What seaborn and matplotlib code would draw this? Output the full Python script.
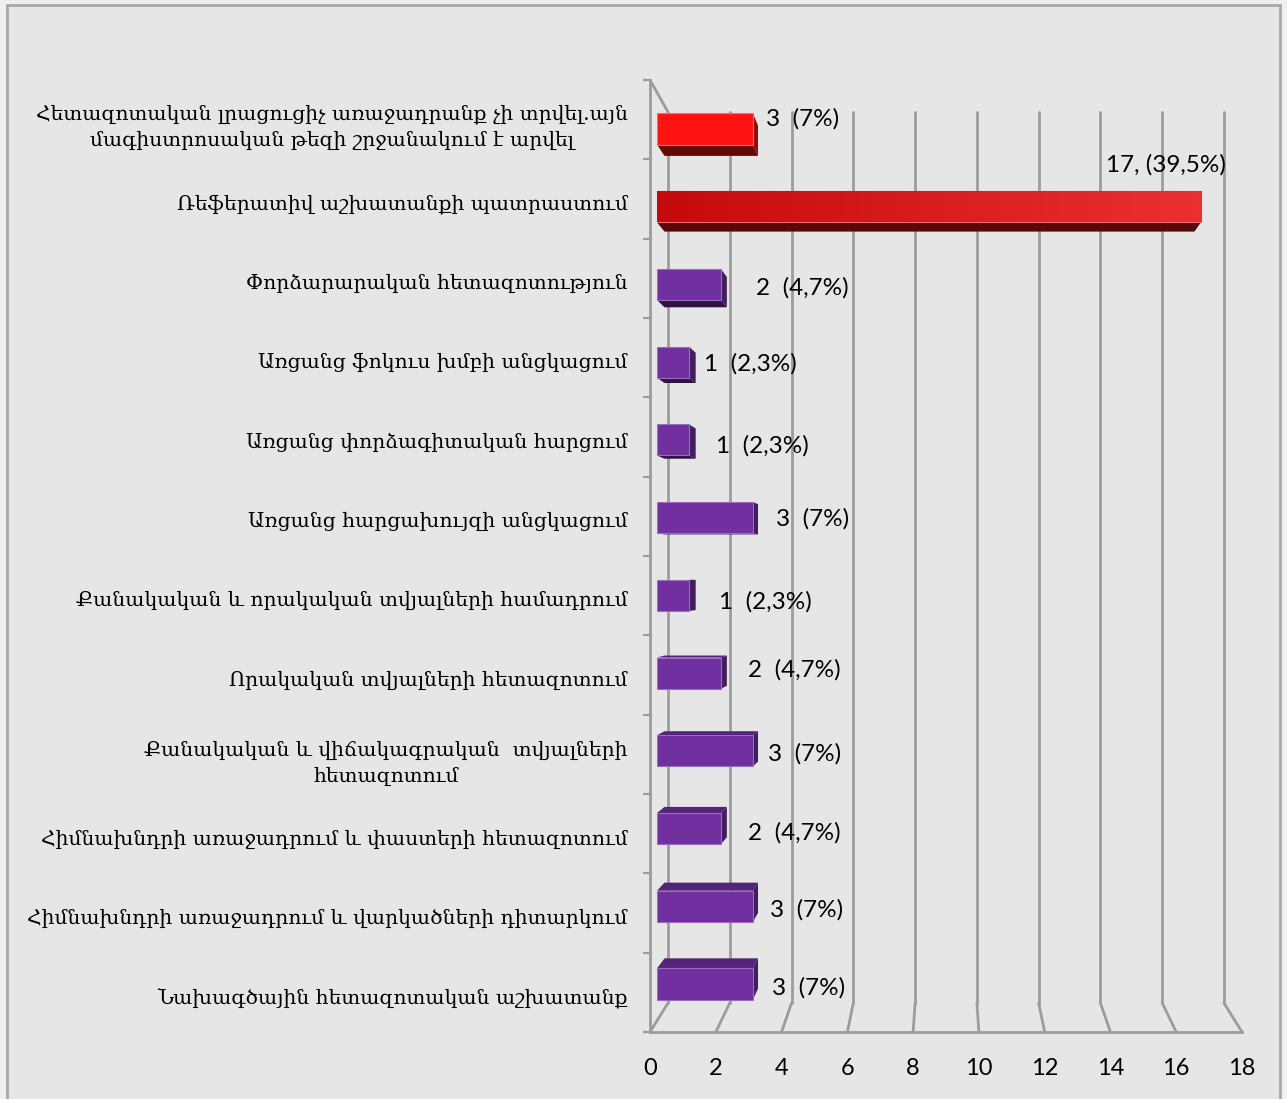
import numpy as np
import pandas as pd
import matplotlib
matplotlib.use("Agg")
import matplotlib.pyplot as plt
import seaborn as sns
from matplotlib.patches import Polygon, Rectangle, ConnectionPatch
from matplotlib.colors import LinearSegmentedColormap, to_rgb

# ---------------- data ----------------
categories = [
    "Հետազոտական լրացուցիչ առաջադրանք չի տրվել.այն\nմագիստրոսական թեզի շրջանակում է արվել",
    "Ռեֆերատիվ աշխատանքի պատրաստում",
    "Փորձարարական հետազոտություն",
    "Առցանց ֆոկուս խմբի անցկացում",
    "Առցանց փորձագիտական հարցում",
    "Առցանց հարցախույզի անցկացում",
    "Քանակական և որակական տվյալների համադրում",
    "Որակական տվյալների հետազոտում",
    "Քանակական և վիճակագրական  տվյալների\nհետազոտում",
    "Հիմնախնդրի առաջադրում և փաստերի հետազոտում",
    "Հիմնախնդրի առաջադրում և վարկածների դիտարկում",
    "Նախագծային հետազոտական աշխատանք",
]
values = [3, 17, 2, 1, 1, 3, 1, 2, 3, 2, 3, 3]
value_labels = ["3  (7%)", "17, (39,5%)", "2  (4,7%)", "1  (2,3%)", "1  (2,3%)",
                "3  (7%)", "1  (2,3%)", "2  (4,7%)", "3  (7%)", "2  (4,7%)",
                "3  (7%)", "3  (7%)"]
x_ticks = [0, 2, 4, 6, 8, 10, 12, 14, 16, 18]

# ---------------- layout / style ----------------
bar_colors = ["#ff1212", "#d81818"] + ["#7030a0"] * 10
label_dx = [0.42, -2.96, 1.10, 0.47, 0.85, 0.73, 0.94, 0.85, 0.48, 0.85, 0.54, 0.60]
label_dy = [-0.13, -0.54, 0.04, 0.02, 0.07, 0.02, 0.08, -0.04, 0.04, 0.05, 0.05, 0.05]
GRID = "#9c9c9c"
W, H = 1287, 1099

sns.set_theme(style="white")
plt.rcParams['font.family'] = ['Lato', 'DejaVu Sans']

fig = plt.figure(figsize=(W / 100, H / 100), dpi=100, facecolor="#efefef")
fig.add_artist(Rectangle((7 / W, -0.01), (1280 - 7) / W, 1.01 - 5 / H,
                         transform=fig.transFigure, facecolor="#e6e6e6",
                         edgecolor="#a8a8a8", lw=2, zorder=-10))


def fpos(l, t, r, b):
    return [l / W, 1 - b / H, (r - l) / W, (b - t) / H]


ylim = (11.618, -0.631)

ax_back = fig.add_axes(fpos(668, 112, 1224, 1003), zorder=0)
ax = fig.add_axes(fpos(650, 80, 1242, 1032), zorder=1)
ax_bar = fig.add_axes(fpos(657, 80, 1233, 1032), zorder=2)

for a in (ax_back, ax, ax_bar):
    a.set_facecolor("none")

# back wall gridlines
ax_back.set_xlim(0, 18)
ax_back.set_ylim(0, 1)
ax_back.axis("off")
for v in x_ticks:
    ax_back.axvline(v, color=GRID, lw=2, clip_on=False)
    fig.add_artist(ConnectionPatch(xyA=(v, 0), coordsA=ax_back.get_xaxis_transform(),
                                   xyB=(v, 0), coordsB=ax.get_xaxis_transform(),
                                   color=GRID, lw=2))
fig.add_artist(ConnectionPatch(xyA=(0, 1), coordsA=ax_back.transAxes,
                               xyB=(0, 1), coordsB=ax.transAxes, color=GRID, lw=2))

# front frame axis
ax.set_xlim(0, 18)
ax.set_ylim(*ylim)
for s in ("top", "right"):
    ax.spines[s].set_visible(False)
for s in ("left", "bottom"):
    ax.spines[s].set_color(GRID)
    ax.spines[s].set_linewidth(2)
ax.set_xticks(x_ticks)
ax.set_xticklabels([str(t) for t in x_ticks])
n = len(categories)
label_pos = [-0.09 + 1.0225 * i for i in range(n)]
ax.set_yticks(label_pos)
ax.set_yticklabels(categories, family=['DejaVu Serif', 'DejaVu Sans'], fontsize=14.6)
for t in ax.get_yticklabels():
    t.set_multialignment("center")
    t.set_linespacing(1.45)
ax.set_yticks([-0.631 + 1.0206 * k for k in range(n + 1)], minor=True)
ax.tick_params(axis="x", which="major", length=6, width=1.5, color=GRID,
               labelsize=17, pad=13, labelcolor="black")
ax.tick_params(axis="y", which="major", length=0, pad=16, labelcolor="black")
ax.tick_params(axis="y", which="minor", length=5, width=1.5, color=GRID, left=True)
ax.set_xlabel("")
ax.set_ylabel("")

# bars
df = pd.DataFrame({"cat": categories, "val": values})
sns.barplot(data=df, y="cat", x="val", hue="cat", palette=bar_colors, orient="h",
            width=0.40, legend=False, saturation=1, ax=ax_bar)
ax_bar.set_xlim(0, 18)
ax_bar.set_ylim(*ylim)
ax_bar.axis("off")

bars = sorted(ax_bar.patches, key=lambda p: p.get_y())
VP = np.array([946.0, H - 580.0])
sfac = 0.026
trans = ax_bar.transData
inv = trans.inverted()


def shade(c, f):
    r, g, b = to_rgb(c)
    return (r * f, g * f, b * f)


for i, (p, c) in enumerate(zip(bars, bar_colors)):
    p.set_zorder(3)
    x0, y0, w, h = p.get_x(), p.get_y(), p.get_width(), p.get_height()
    d = trans.transform([(x0, y0), (x0 + w, y0), (x0 + w, y0 + h), (x0, y0 + h)])
    xl, xr = d[:, 0].min(), d[:, 0].max()
    yt, yb = d[:, 1].max(), d[:, 1].min()
    TL, TR, BR, BL = np.array([xl, yt]), np.array([xr, yt]), np.array([xr, yb]), np.array([xl, yb])
    bk = lambda P: P + sfac * (VP - P)
    faces = []
    if VP[1] > yt:
        faces.append(([TL, TR, bk(TR), bk(TL)], shade(c, 0.75)))
    if VP[1] < yb:
        faces.append(([BL, BR, bk(BR), bk(BL)], shade(c, 0.4)))
    if VP[0] > xr:
        faces.append(([TR, BR, bk(BR), bk(TR)], shade(c, 0.6)))
    if VP[0] < xl:
        faces.append(([TL, BL, bk(BL), bk(TL)], shade(c, 0.6)))
    for pts, fc in faces:
        ax_bar.add_patch(Polygon(inv.transform(np.array(pts)), closed=True,
                                 facecolor=fc, edgecolor="none", zorder=2))
    edge = "#9a6cc0" if c == "#7030a0" else "#ff6a6a"
    p.set_edgecolor(edge)
    p.set_linewidth(0.8)

# gradient on the long red bar
big = bars[1]
cmap = LinearSegmentedColormap.from_list("redgrad", ["#c40a0a", "#ea3030"])
grad = np.linspace(0, 1, 256).reshape(1, -1)
im = ax_bar.imshow(grad, cmap=cmap, aspect="auto", zorder=3.5,
                   extent=(big.get_x(), big.get_x() + big.get_width(),
                           big.get_y() + big.get_height(), big.get_y()))
im.set_clip_path(big)
ax_bar.set_xlim(0, 18)
ax_bar.set_ylim(*ylim)

# value labels
for i, (v, lab) in enumerate(zip(values, value_labels)):
    ax_bar.text(v + label_dx[i], i + label_dy[i], lab, ha="left", va="center",
                fontsize=17.5, color="black", zorder=5)

fig.savefig("out.png", dpi=100, facecolor=fig.get_facecolor())
